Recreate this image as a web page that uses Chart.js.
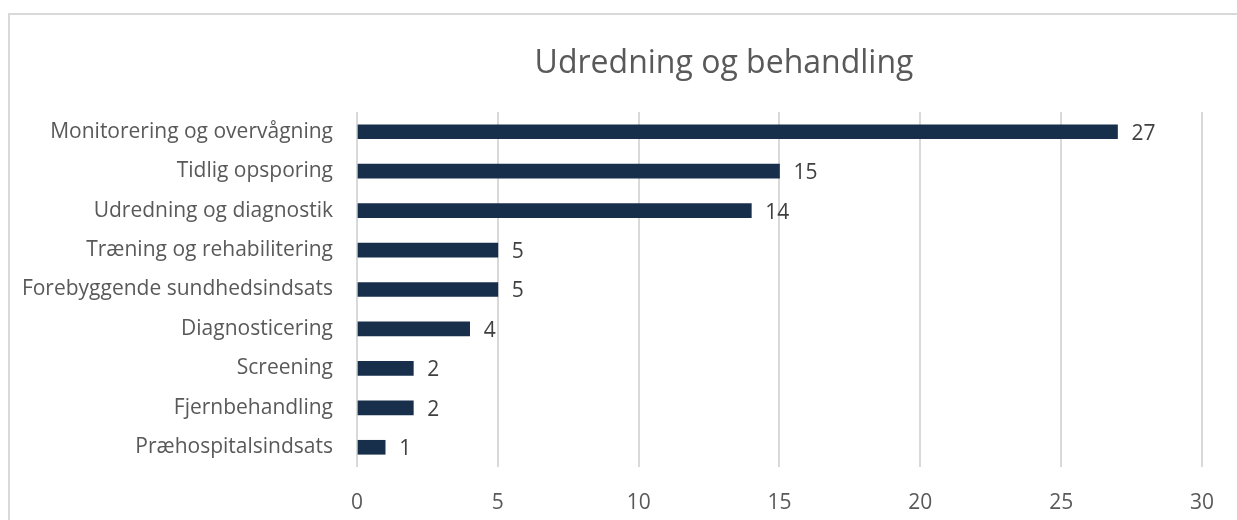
<!DOCTYPE html>
<html>
<head>
<meta charset="utf-8">
<script src="https://cdn.jsdelivr.net/npm/chart.js@4/dist/chart.umd.min.js"></script>
<style>
	body { margin: 0; background: #fff; overflow: hidden; }
	.frame { position: absolute; left: 8px; top: 13px; width: 1260px; height: 560px; border: 2px solid #d9d9d9; }
	#chart { position: absolute; left: 0; top: 0; }
</style>
</head>
<body>
<div class="frame"></div>
<canvas id="chart" width="1237" height="520"></canvas>
<script>
var categories = [
	'Monitorering og overvågning',
	'Tidlig opsporing',
	'Udredning og diagnostik',
	'Træning og rehabilitering',
	'Forebyggende sundhedsindsats',
	'Diagnosticering',
	'Screening',
	'Fjernbehandling',
	'Præhospitalsindsats'
]
var counts = [27, 15, 14, 5, 5, 4, 2, 2, 1]
var title = 'Udredning og behandling'
var xMax = 30
var xStep = 5

var fontFamily = '"Open Sans", sans-serif'

//labels next to the bars
var barLabels = {
	id: 'barLabels',
	afterDatasetsDraw: function (chart) {
		var ctx = chart.ctx
		var meta = chart.getDatasetMeta(0)
		ctx.save()
		ctx.font = '21px ' + fontFamily
		ctx.fillStyle = '#404040'
		ctx.textAlign = 'left'
		ctx.textBaseline = 'middle'
		meta.data.forEach(function (bar, i) {
			ctx.fillText(counts[i], bar.x + 14, bar.y + 2)
		})
		ctx.restore()
	}
}

//title, centred on the whole frame (wider than the window)
var titleText = {
	id: 'titleText',
	afterDraw: function (chart) {
		var ctx = chart.ctx
		ctx.save()
		ctx.font = '32px ' + fontFamily
		ctx.fillStyle = '#595959'
		ctx.textAlign = 'center'
		ctx.textBaseline = 'middle'
		ctx.fillText(title, 724, 64)
		ctx.restore()
	}
}

new Chart(document.getElementById('chart'), {
	type: 'bar',
	data: {
		labels: categories,
		datasets: [{
			data: counts,
			backgroundColor: '#172f4b',
			barThickness: 14
		}]
	},
	options: {
		indexAxis: 'y',
		responsive: false,
		animation: false,
		layout: { padding: { left: 0, right: 30, top: 112, bottom: 0 } },
		plugins: {
			legend: { display: false },
			tooltip: { enabled: false },
			title: { display: false }
		},
		scales: {
			x: {
				min: 0,
				max: xMax,
				ticks: {
					stepSize: xStep,
					color: '#595959',
					font: { family: fontFamily, size: 21 },
					padding: 23
				},
				grid: { color: '#d9d9d9', lineWidth: 2, drawTicks: false },
				border: { display: false },
				afterFit: function (scale) { scale.height = 53 }
			},
			y: {
				ticks: {
					color: '#595959',
					font: { family: fontFamily, size: 21 },
					padding: 24
				},
				grid: { display: false, drawTicks: false },
				border: { display: false },
				afterFit: function (scale) { scale.width = 357 }
			}
		}
	},
	plugins: [barLabels, titleText]
})
</script>
</body>
</html>
